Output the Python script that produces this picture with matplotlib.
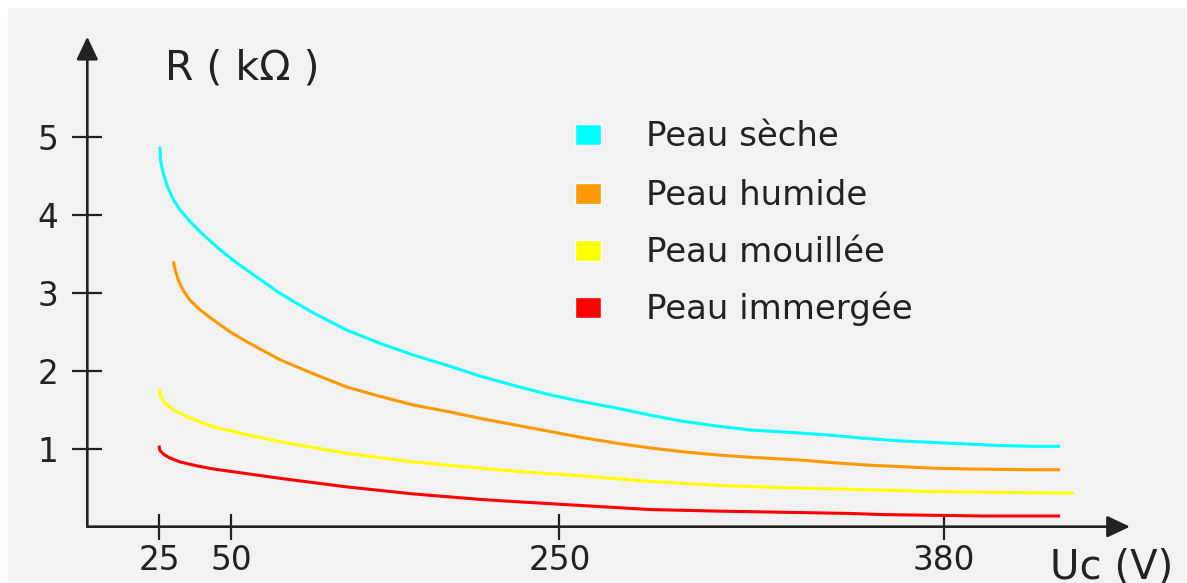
import matplotlib
matplotlib.use("Agg")
import matplotlib.pyplot as plt
import numpy as np
from matplotlib.patches import Rectangle

plt.rcParams['font.family'] = ['DejaVu Sans']

seche_u = [25.2, 25.4, 26.4, 27.8, 29.9, 32.2, 35.7, 40.3, 46.1, 53.3, 59.4, 79.7, 100, 120.4,
           140.7, 161, 181.3, 201.7, 224, 244.3, 258.1, 269.4, 280.6, 291.9, 303.2, 314.4,
           331.3, 342.6, 353.9, 365.1, 376.4, 387.7, 398.9, 410.2, 419.2]
seche_r = [4.87, 4.70, 4.53, 4.36, 4.19, 4.06, 3.91, 3.74, 3.55, 3.38, 3.29, 2.99, 2.74, 2.52,
           2.35, 2.20, 2.07, 1.93, 1.80, 1.69, 1.60, 1.52, 1.43, 1.35, 1.29, 1.24,
           1.20, 1.17, 1.13, 1.10, 1.08, 1.06, 1.04, 1.03, 1.03]

humide_u = [29.9, 30.5, 31.6, 33.3, 35.7, 39.1, 43.75, 49.5, 59.4, 79.7, 100, 120.4, 140.7, 161,
            183.4, 203.7, 224, 244.3, 258.1, 269.4, 280.6, 291.9, 303.2, 314.4,
            331.3, 342.6, 353.9, 365.1, 376.4, 387.7, 398.9, 410.2, 419.2]
humide_r = [3.40, 3.29, 3.16, 3.03, 2.90, 2.78, 2.65, 2.50, 2.37, 2.14, 1.96, 1.79, 1.67, 1.56,
            1.47, 1.38, 1.30, 1.22, 1.14, 1.07, 1.01, 0.96, 0.92, 0.89,
            0.855, 0.82, 0.79, 0.77, 0.75, 0.74, 0.735, 0.73, 0.73]

mouillee_u = [25, 25.5, 27, 29.9, 34.5, 43.75, 59.4, 79.7, 120.4, 161, 201.7,
              224, 258.1, 280.6, 303.2, 325.7, 348.2, 376.4, 398.9, 423.7]
mouillee_r = [1.77, 1.67, 1.58, 1.50, 1.41, 1.28, 1.18, 1.09, 0.94, 0.83, 0.75,
              0.71, 0.65, 0.58, 0.53, 0.50, 0.48, 0.45, 0.44, 0.43]

immergee_u = [24.9, 25.2, 26.4, 28.7, 32.2, 38.0, 43.75, 59.4, 79.7, 120.4, 161, 201.7,
              224, 258.1, 280.6, 303.2, 325.7, 348.2, 359.5, 393.3, 419.2]
immergee_r = [1.04, 0.98, 0.93, 0.88, 0.83, 0.78, 0.74, 0.68, 0.62, 0.51, 0.42, 0.35,
              0.32, 0.27, 0.22, 0.20, 0.185, 0.17, 0.155, 0.137, 0.137]

labels = ['Peau sèche', 'Peau humide', 'Peau mouillée', 'Peau immergée']
colors = ['#00ffff', '#ff9900', '#ffff00', '#ff0000']

x_ticks = [25, 50, 250, 380]
y_ticks = [1, 2, 3, 4, 5]

# l'axe des tensions n'est pas lineaire sur le schema
knots_v = [0, 50, 250, 380, 500]
knots_p = [0, 144, 472, 856.7, 1211.9]

def fwd(v):
    return np.interp(v, knots_v, knots_p)

def inv(p):
    return np.interp(p, knots_p, knots_v)

W, H = 1187, 583
fig = plt.figure(figsize=(W / 100, H / 100), dpi=100, facecolor='white')

def px(x, y):
    return x / W, 1 - y / H

fig.patches.append(Rectangle(px(8, 583), (1185 - 8) / W, (583 - 8) / H,
                             transform=fig.transFigure, color='#f2f2f2', zorder=-10))

ax = fig.add_axes([87.3 / W, (H - 526.7) / H, (1130 - 87.3) / W, (526.7 - 36.7) / H])
ax.set_facecolor('none')
ax.set_xscale('function', functions=(fwd, inv))
ax.set_xlim(0, 442.8)
ax.set_ylim(0, 6.28)

series = [(seche_u, seche_r), (humide_u, humide_r), (mouillee_u, mouillee_r), (immergee_u, immergee_r)]
for (u, r), c in zip(series, colors):
    ax.plot(u, r, color=c, lw=2.2, solid_capstyle='butt', solid_joinstyle='round')

for s in ax.spines.values():
    s.set_visible(False)

axcol = '#222222'
arr = dict(arrowstyle='-|>,head_length=0.7,head_width=0.33', lw=1.9, color=axcol,
           shrinkA=0, shrinkB=0, mutation_scale=20)
ax.annotate('', xy=(1, 0), xytext=(0, 0), xycoords='axes fraction', arrowprops=arr)
ax.annotate('', xy=(0, 1), xytext=(0, 0), xycoords='axes fraction', arrowprops=arr)

ax.set_xticks(x_ticks)
ax.set_xticklabels([str(t) for t in x_ticks])
ax.set_yticks(y_ticks)
ax.set_yticklabels([str(t) for t in y_ticks])
ax.xaxis.set_minor_locator(matplotlib.ticker.NullLocator())
ax.tick_params(axis='x', direction='inout', length=19, width=1.6, color=axcol,
               labelsize=23.6, labelcolor=axcol, pad=3)
ax.tick_params(axis='y', direction='inout', length=22, width=1.6, color=axcol,
               labelsize=23.6, labelcolor=axcol, pad=10)

fig.text(*px(165, 79.3), 'R ( kΩ )', fontsize=29.5, color=axcol, va='baseline', ha='left')
fig.text(*px(1050, 578), 'Uc (V)', fontsize=29, color=axcol, va='baseline', ha='left')

# legende
rows = [134.5, 193.3, 250.8, 307.5]
for yc, lab, c in zip(rows, labels, colors):
    fig.patches.append(Rectangle(px(575, yc + 10.5), 26 / W, 21 / H, transform=fig.transFigure,
                                 facecolor=c, edgecolor='white', lw=1))
    fig.text(*px(646, yc + 11.5), lab, fontsize=24.5, color=axcol, va='baseline', ha='left')

fig.savefig('out.png', dpi=100, facecolor=fig.get_facecolor())
